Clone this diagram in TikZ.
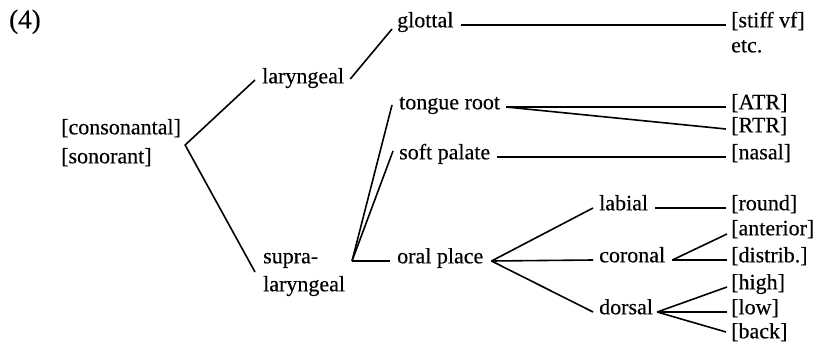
\documentclass[tikz,border=0pt]{standalone}
\usepackage{fontspec}
\setmainfont{Liberation Serif}
\newfontfamily\treefont{Liberation Serif}[FakeBold=0.3]
\usetikzlibrary{calc}
\begin{document}
\begin{tikzpicture}[x=1pt,y=-1pt,
  lbl/.style={inner sep=0pt, anchor=mid west, align=left,
              font=\treefont\fontsize{22}{25}\selectfont},
  branch/.style={line width=1.6pt}]
\useasboundingbox (0,0) rectangle (818,345);

% example number
\node[lbl, font=\treefont\fontsize{27}{30}\selectfont] (num) at (9,26) {(4)};

% tree nodes (two-line labels are placed by their last line)
\node[lbl] (root)  at (61,161)  {[consonantal]\\[4pt][sonorant]};
\node[lbl] (lar)   at (262,81)  {laryngeal};
\node[lbl] (supra) at (263,289) {supra-\\[3pt]laryngeal};
\node[lbl] (glot)  at (397,25)  {glottal};
\node[lbl] (tr)    at (399,107) {tongue root};
\node[lbl] (sp)    at (399,157) {soft palate};
\node[lbl] (oral)  at (397,261) {oral place};
\node[lbl] (lab)   at (599,208) {labial};
\node[lbl] (cor)   at (599,260) {coronal};
\node[lbl] (dor)   at (599,312) {dorsal};

% terminal features
\node[lbl] (stiff) at (731,50)  {[stiff vf]\\etc.};
\node[lbl] (atr)   at (731,107) {[ATR]};
\node[lbl] (rtr)   at (731,130) {[RTR]};
\node[lbl] (nas)   at (731,157) {[nasal]};
\node[lbl] (rnd)   at (731,208) {[round]};
\node[lbl] (ant)   at (731,233) {[anterior]};
\node[lbl] (dis)   at (731,260) {[distrib.]};
\node[lbl] (hi)    at (731,287) {[high]};
\node[lbl] (lo)    at (731,312) {[low]};
\node[lbl] (bk)    at (731,336) {[back]};

% branching points
\coordinate (rootJ)  at ($(root.mid east)+(4,-16)$);
\coordinate (supJ)   at ($(oral.mid west)+(-45,0)$);
\coordinate (oralJ)  at ($(oral.mid east)+(8,0)$);
\coordinate (trJ)    at ($(tr.mid east)+(6,0)$);
\coordinate (corJ)   at ($(cor.mid east)+(7,0)$);
\coordinate (dorJ)   at ($(dor.mid east)+(4,0)$);

% branches
\draw[branch] ($(lar.mid west)+(-7,-1)$) -- (rootJ) -- ($(supra.mid west)+(-8,-17)$);
\draw[branch] ($(lar.mid east)+(6,-2)$) -- ($(glot.mid west)+(-5,4)$);
\draw[branch] ($(glot.mid east)+(7,0)$) -- ($(atr.mid west |- glot.mid west)+(-5,0)$);

\draw[branch] ($(tr.mid west)+(-7,-2)$) -- (supJ);
\draw[branch] ($(sp.mid west)+(-6,-6)$) -- (supJ);
\draw[branch] (supJ) -- ($(oral.mid west)+(-7,0)$);

\draw[branch] (trJ) -- ($(atr.mid west)+(-5,0)$);
\draw[branch] (trJ) -- ($(rtr.mid west)+(-5,-1)$);
\draw[branch] ($(sp.mid east)+(7,0)$) -- ($(nas.mid west)+(-5,0)$);

\draw[branch] (oralJ) -- ($(lab.mid west)+(-6,0)$);
\draw[branch] (oralJ) -- ($(cor.mid west)+(-6,0)$);
\draw[branch] (oralJ) -- ($(dor.mid west)+(-6,0)$);

\draw[branch] ($(lab.mid east)+(7,0)$) -- ($(rnd.mid west)+(-5,0)$);
\draw[branch] (corJ) -- ($(ant.mid west)+(-4,1)$);
\draw[branch] (corJ) -- ($(dis.mid west)+(-4,0)$);
\draw[branch] (dorJ) -- ($(hi.mid west)+(-4,0)$);
\draw[branch] (dorJ) -- ($(lo.mid west)+(-4,0)$);
\draw[branch] (dorJ) -- ($(bk.mid west)+(-5,-4)$);
\end{tikzpicture}
\end{document}
